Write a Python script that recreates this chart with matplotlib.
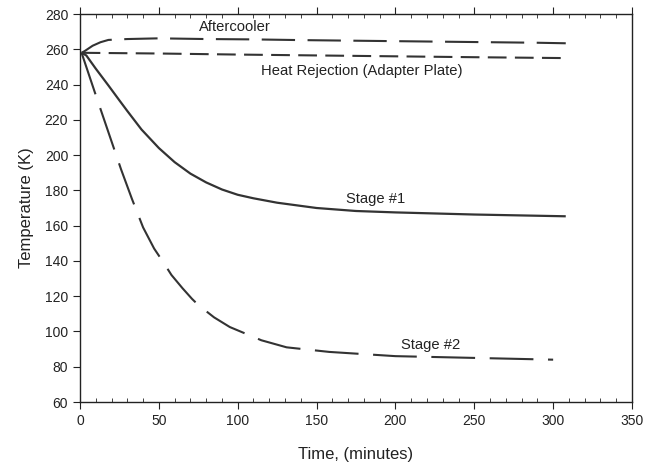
import matplotlib
matplotlib.use("Agg")
import matplotlib.pyplot as plt
from matplotlib.ticker import MultipleLocator

plt.rcParams['font.family'] = ['Liberation Sans', 'DejaVu Sans']

# Data
stage1_t = [1, 4, 10, 18, 25, 30, 39, 50, 60, 70, 80, 90, 100, 110, 125, 150, 175, 200, 250, 308]
stage1_T = [258, 256.5, 249, 239.5, 231, 225, 214.5, 204, 196, 189.5, 184.5, 180.5, 177.5, 175.5, 173, 170, 168.3, 167.5, 166.3, 165.3]

stage2_t = [1, 10, 18, 26, 33, 40, 47, 53, 58, 65, 71, 75, 85, 95, 103, 115, 131, 158, 200, 250, 300]
stage2_T = [258, 234, 213, 192, 175, 159, 147, 139, 132, 124.5, 118.5, 115, 108, 102.5, 99.5, 95, 91, 88.4, 86, 85, 84]

after_t = [1, 3, 8, 13, 18, 30, 50, 80, 110, 140, 170, 200, 230, 260, 290, 308]
after_T = [258, 259, 262, 264, 265.3, 265.8, 266.2, 265.8, 265.6, 265.2, 264.9, 264.6, 264.3, 264.0, 263.7, 263.4]

heat_t = [1, 50, 100, 150, 200, 250, 308]
heat_T = [258, 257.6, 257, 256.5, 256, 255.5, 255]

xticks = [0, 50, 100, 150, 200, 250, 300, 350]
yticks = [60, 80, 100, 120, 140, 160, 180, 200, 220, 240, 260, 280]

labels = {
    "Aftercooler": (98, 272.4),
    "Heat Rejection (Adapter Plate)": (178.5, 247.9),
    "Stage #1": (187.4, 175.0),
    "Stage #2": (222.5, 92.3),
}

col = '#333333'
fig = plt.figure(figsize=(6.47, 4.69), dpi=100)
ax = fig.add_axes([80/647, 1 - 402/469, 552/647, 388/469])

ax.plot(stage1_t, stage1_T, color=col, lw=1.6, solid_capstyle='butt')
ax.plot(stage2_t, stage2_T, color=col, lw=1.5, dashes=(21, 7))
ax.plot(after_t, after_T, color=col, lw=1.5, dashes=(16, 6))
ax.plot(heat_t, heat_T, color=col, lw=1.5, dashes=(9, 4))

for txt, (x, y) in labels.items():
    ax.text(x, y, txt, ha='center', va='center', fontsize=10.6, color='#222222')

ax.set_xlim(0, 350)
ax.set_ylim(60, 280)
ax.set_xticks(xticks)
ax.set_yticks(yticks)
ax.xaxis.set_minor_locator(MultipleLocator(10))
ax.tick_params(axis='x', which='major', direction='out', length=5, top=True, labelsize=10, colors='#222222')
ax.tick_params(axis='x', which='minor', direction='in', length=3, top=True, colors='#222222')
ax.tick_params(axis='y', which='major', direction='out', length=5, labelsize=10, colors='#222222')
for s in ax.spines.values():
    s.set_color('#222222')
    s.set_linewidth(1.0)

ax.set_xlabel('Time, (minutes)', fontsize=12, color='#222222', labelpad=14)
ax.set_ylabel('Temperature (K)', fontsize=12, color='#222222', labelpad=8)

fig.savefig('out.png', dpi=100)
